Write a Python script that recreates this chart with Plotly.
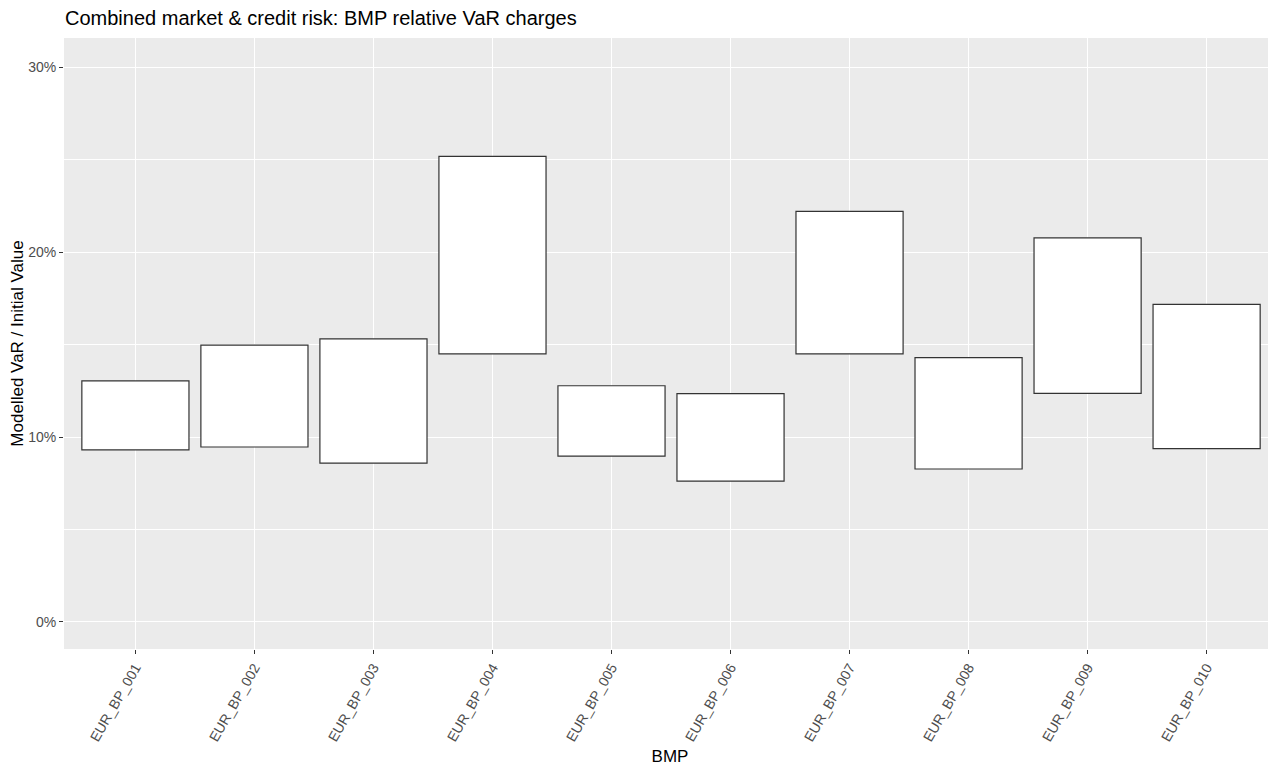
import plotly.graph_objects as go

categories = ["EUR_BP_001", "EUR_BP_002", "EUR_BP_003", "EUR_BP_004", "EUR_BP_005",
              "EUR_BP_006", "EUR_BP_007", "EUR_BP_008", "EUR_BP_009", "EUR_BP_010"]
var_low = [0.0930, 0.0946, 0.0859, 0.1449, 0.0897, 0.0762, 0.1449, 0.0827, 0.1236, 0.0937]
var_high = [0.1303, 0.1497, 0.1530, 0.2517, 0.1277, 0.1234, 0.2220, 0.1429, 0.2077, 0.1717]
y_ticks = [0.0, 0.1, 0.2, 0.3]
y_tick_labels = ["0%", "10%", "20%", "30%"]

heights = [h - l for h, l in zip(var_high, var_low)]

fig = go.Figure()
fig.add_trace(go.Bar(
    x=categories,
    y=heights,
    base=var_low,
    width=0.9,
    marker=dict(color="white", line=dict(color="#333333", width=1.2)),
    hoverinfo="skip",
    showlegend=False,
))

font = "Liberation Sans, Arial, sans-serif"
# page body has an 8px default margin: figure occupies x 8..1276, y 8..767
W, H = 1268, 759
fig.update_layout(
    width=W,
    height=H,
    margin=dict(l=56, r=0, t=30, b=118, autoexpand=False),
    paper_bgcolor="white",
    plot_bgcolor="#EBEBEB",
    font=dict(family=font, color="#000000"),
    title=dict(
        text="Combined market & credit risk: BMP relative VaR charges",
        x=57 / W, xref="container", xanchor="left",
        y=1 - 10 / H, yref="container", yanchor="middle",
        font=dict(size=20, family=font, color="black"),
    ),
    bargap=0.1,
    xaxis=dict(
        type="category",
        range=[-0.6, 9.583],
        showgrid=True, gridcolor="white", gridwidth=1.1,
        zeroline=False, showline=False,
        ticks="outside", ticklen=4, tickwidth=1.1, tickcolor="#333333",
        tickangle=-60,
        tickfont=dict(size=14, color="#4D4D4D", family=font),
        title=dict(text="BMP", font=dict(size=17, color="black", family=font), standoff=6),
        automargin=False,
    ),
    yaxis=dict(
        range=[-0.0146, 0.3157],
        tickvals=y_ticks, ticktext=y_tick_labels,
        showgrid=True, gridcolor="white", gridwidth=1.1,
        minor=dict(tickvals=[0.05, 0.15, 0.25], showgrid=True, gridcolor="white", gridwidth=0.55, ticks=""),
        zeroline=False, showline=False,
        ticks="outside", ticklen=4, tickwidth=1.1, tickcolor="#333333",
        tickfont=dict(size=14, color="#4D4D4D", family=font),
        title=dict(text="Modelled VaR / Initial Value", font=dict(size=17, color="black", family=font), standoff=4),
        automargin=False,
    ),
)

fig.write_html("out.html")
